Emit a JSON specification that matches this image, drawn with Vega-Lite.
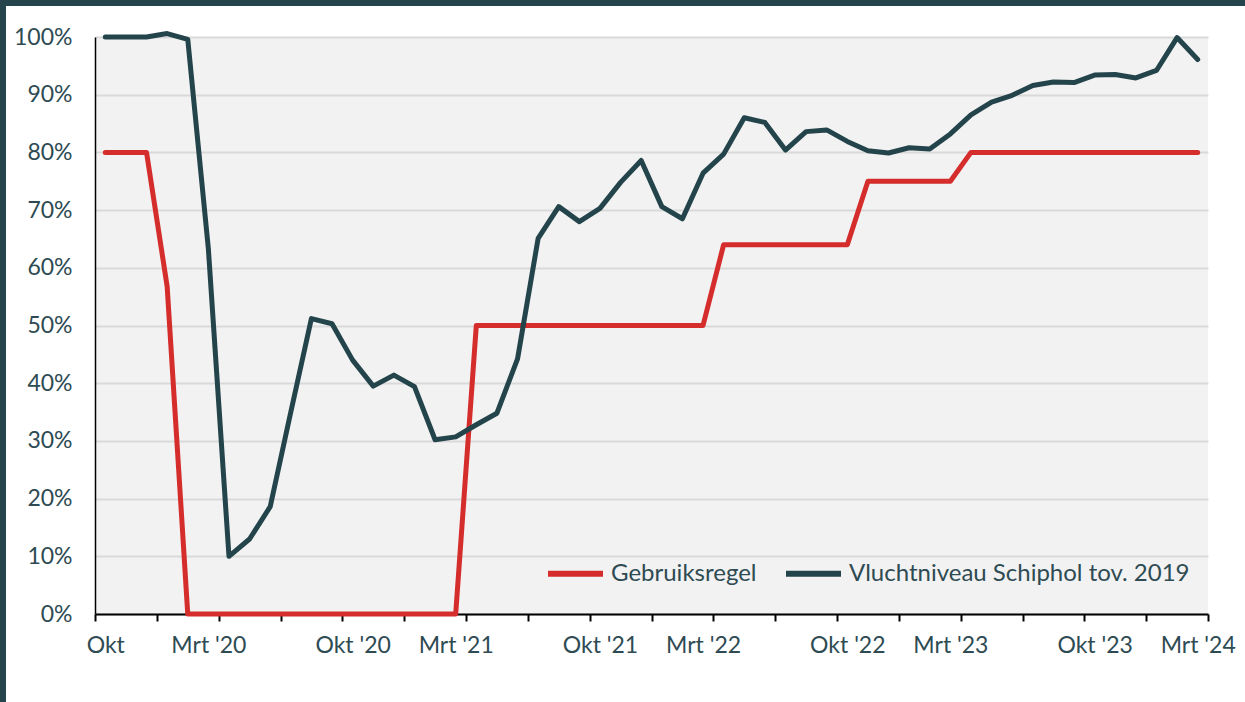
{
  "$schema": "https://vega.github.io/schema/vega-lite/v6.json",
  "padding": 0,
  "background": "white",
  "config": {
    "font": "Lato",
    "axis": {"labelFont": "Lato", "labelFontSize": 23, "labelColor": "#2e4b53", "titleFont": "Lato"},
    "legend": {"labelFont": "Lato"},
    "concat": {"spacing": 0}
  },
  "datasets": {
    "leeg": [],
    "reeksen": [
      {"i": 0, "maand": "2019-10", "reeks": "Gebruiksregel", "waarde": 80},
      {"i": 1, "maand": "2019-11", "reeks": "Gebruiksregel", "waarde": 80},
      {"i": 2, "maand": "2019-12", "reeks": "Gebruiksregel", "waarde": 80},
      {"i": 3, "maand": "2020-01", "reeks": "Gebruiksregel", "waarde": 56.8},
      {"i": 4, "maand": "2020-02", "reeks": "Gebruiksregel", "waarde": 0},
      {"i": 5, "maand": "2020-03", "reeks": "Gebruiksregel", "waarde": 0},
      {"i": 6, "maand": "2020-04", "reeks": "Gebruiksregel", "waarde": 0},
      {"i": 7, "maand": "2020-05", "reeks": "Gebruiksregel", "waarde": 0},
      {"i": 8, "maand": "2020-06", "reeks": "Gebruiksregel", "waarde": 0},
      {"i": 9, "maand": "2020-07", "reeks": "Gebruiksregel", "waarde": 0},
      {"i": 10, "maand": "2020-08", "reeks": "Gebruiksregel", "waarde": 0},
      {"i": 11, "maand": "2020-09", "reeks": "Gebruiksregel", "waarde": 0},
      {"i": 12, "maand": "2020-10", "reeks": "Gebruiksregel", "waarde": 0},
      {"i": 13, "maand": "2020-11", "reeks": "Gebruiksregel", "waarde": 0},
      {"i": 14, "maand": "2020-12", "reeks": "Gebruiksregel", "waarde": 0},
      {"i": 15, "maand": "2021-01", "reeks": "Gebruiksregel", "waarde": 0},
      {"i": 16, "maand": "2021-02", "reeks": "Gebruiksregel", "waarde": 0},
      {"i": 17, "maand": "2021-03", "reeks": "Gebruiksregel", "waarde": 0},
      {"i": 18, "maand": "2021-04", "reeks": "Gebruiksregel", "waarde": 50},
      {"i": 19, "maand": "2021-05", "reeks": "Gebruiksregel", "waarde": 50},
      {"i": 20, "maand": "2021-06", "reeks": "Gebruiksregel", "waarde": 50},
      {"i": 21, "maand": "2021-07", "reeks": "Gebruiksregel", "waarde": 50},
      {"i": 22, "maand": "2021-08", "reeks": "Gebruiksregel", "waarde": 50},
      {"i": 23, "maand": "2021-09", "reeks": "Gebruiksregel", "waarde": 50},
      {"i": 24, "maand": "2021-10", "reeks": "Gebruiksregel", "waarde": 50},
      {"i": 25, "maand": "2021-11", "reeks": "Gebruiksregel", "waarde": 50},
      {"i": 26, "maand": "2021-12", "reeks": "Gebruiksregel", "waarde": 50},
      {"i": 27, "maand": "2022-01", "reeks": "Gebruiksregel", "waarde": 50},
      {"i": 28, "maand": "2022-02", "reeks": "Gebruiksregel", "waarde": 50},
      {"i": 29, "maand": "2022-03", "reeks": "Gebruiksregel", "waarde": 50},
      {"i": 30, "maand": "2022-04", "reeks": "Gebruiksregel", "waarde": 64},
      {"i": 31, "maand": "2022-05", "reeks": "Gebruiksregel", "waarde": 64},
      {"i": 32, "maand": "2022-06", "reeks": "Gebruiksregel", "waarde": 64},
      {"i": 33, "maand": "2022-07", "reeks": "Gebruiksregel", "waarde": 64},
      {"i": 34, "maand": "2022-08", "reeks": "Gebruiksregel", "waarde": 64},
      {"i": 35, "maand": "2022-09", "reeks": "Gebruiksregel", "waarde": 64},
      {"i": 36, "maand": "2022-10", "reeks": "Gebruiksregel", "waarde": 64},
      {"i": 37, "maand": "2022-11", "reeks": "Gebruiksregel", "waarde": 75},
      {"i": 38, "maand": "2022-12", "reeks": "Gebruiksregel", "waarde": 75},
      {"i": 39, "maand": "2023-01", "reeks": "Gebruiksregel", "waarde": 75},
      {"i": 40, "maand": "2023-02", "reeks": "Gebruiksregel", "waarde": 75},
      {"i": 41, "maand": "2023-03", "reeks": "Gebruiksregel", "waarde": 75},
      {"i": 42, "maand": "2023-04", "reeks": "Gebruiksregel", "waarde": 80},
      {"i": 43, "maand": "2023-05", "reeks": "Gebruiksregel", "waarde": 80},
      {"i": 44, "maand": "2023-06", "reeks": "Gebruiksregel", "waarde": 80},
      {"i": 45, "maand": "2023-07", "reeks": "Gebruiksregel", "waarde": 80},
      {"i": 46, "maand": "2023-08", "reeks": "Gebruiksregel", "waarde": 80},
      {"i": 47, "maand": "2023-09", "reeks": "Gebruiksregel", "waarde": 80},
      {"i": 48, "maand": "2023-10", "reeks": "Gebruiksregel", "waarde": 80},
      {"i": 49, "maand": "2023-11", "reeks": "Gebruiksregel", "waarde": 80},
      {"i": 50, "maand": "2023-12", "reeks": "Gebruiksregel", "waarde": 80},
      {"i": 51, "maand": "2024-01", "reeks": "Gebruiksregel", "waarde": 80},
      {"i": 52, "maand": "2024-02", "reeks": "Gebruiksregel", "waarde": 80},
      {"i": 53, "maand": "2024-03", "reeks": "Gebruiksregel", "waarde": 80},
      {"i": 0, "maand": "2019-10", "reeks": "Vluchtniveau Schiphol tov. 2019", "waarde": 100},
      {"i": 1, "maand": "2019-11", "reeks": "Vluchtniveau Schiphol tov. 2019", "waarde": 100},
      {"i": 2, "maand": "2019-12", "reeks": "Vluchtniveau Schiphol tov. 2019", "waarde": 100},
      {"i": 3, "maand": "2020-01", "reeks": "Vluchtniveau Schiphol tov. 2019", "waarde": 100.6},
      {"i": 4, "maand": "2020-02", "reeks": "Vluchtniveau Schiphol tov. 2019", "waarde": 99.6},
      {"i": 5, "maand": "2020-03", "reeks": "Vluchtniveau Schiphol tov. 2019", "waarde": 63.3},
      {"i": 6, "maand": "2020-04", "reeks": "Vluchtniveau Schiphol tov. 2019", "waarde": 10},
      {"i": 7, "maand": "2020-05", "reeks": "Vluchtniveau Schiphol tov. 2019", "waarde": 13},
      {"i": 8, "maand": "2020-06", "reeks": "Vluchtniveau Schiphol tov. 2019", "waarde": 18.6},
      {"i": 9, "maand": "2020-07", "reeks": "Vluchtniveau Schiphol tov. 2019", "waarde": 35},
      {"i": 10, "maand": "2020-08", "reeks": "Vluchtniveau Schiphol tov. 2019", "waarde": 51.2},
      {"i": 11, "maand": "2020-09", "reeks": "Vluchtniveau Schiphol tov. 2019", "waarde": 50.3},
      {"i": 12, "maand": "2020-10", "reeks": "Vluchtniveau Schiphol tov. 2019", "waarde": 44},
      {"i": 13, "maand": "2020-11", "reeks": "Vluchtniveau Schiphol tov. 2019", "waarde": 39.5},
      {"i": 14, "maand": "2020-12", "reeks": "Vluchtniveau Schiphol tov. 2019", "waarde": 41.4},
      {"i": 15, "maand": "2021-01", "reeks": "Vluchtniveau Schiphol tov. 2019", "waarde": 39.4},
      {"i": 16, "maand": "2021-02", "reeks": "Vluchtniveau Schiphol tov. 2019", "waarde": 30.2},
      {"i": 17, "maand": "2021-03", "reeks": "Vluchtniveau Schiphol tov. 2019", "waarde": 30.7},
      {"i": 18, "maand": "2021-04", "reeks": "Vluchtniveau Schiphol tov. 2019", "waarde": 32.8},
      {"i": 19, "maand": "2021-05", "reeks": "Vluchtniveau Schiphol tov. 2019", "waarde": 34.8},
      {"i": 20, "maand": "2021-06", "reeks": "Vluchtniveau Schiphol tov. 2019", "waarde": 44.2},
      {"i": 21, "maand": "2021-07", "reeks": "Vluchtniveau Schiphol tov. 2019", "waarde": 65.1},
      {"i": 22, "maand": "2021-08", "reeks": "Vluchtniveau Schiphol tov. 2019", "waarde": 70.6},
      {"i": 23, "maand": "2021-09", "reeks": "Vluchtniveau Schiphol tov. 2019", "waarde": 68},
      {"i": 24, "maand": "2021-10", "reeks": "Vluchtniveau Schiphol tov. 2019", "waarde": 70.3},
      {"i": 25, "maand": "2021-11", "reeks": "Vluchtniveau Schiphol tov. 2019", "waarde": 74.8},
      {"i": 26, "maand": "2021-12", "reeks": "Vluchtniveau Schiphol tov. 2019", "waarde": 78.6},
      {"i": 27, "maand": "2022-01", "reeks": "Vluchtniveau Schiphol tov. 2019", "waarde": 70.6},
      {"i": 28, "maand": "2022-02", "reeks": "Vluchtniveau Schiphol tov. 2019", "waarde": 68.5},
      {"i": 29, "maand": "2022-03", "reeks": "Vluchtniveau Schiphol tov. 2019", "waarde": 76.4},
      {"i": 30, "maand": "2022-04", "reeks": "Vluchtniveau Schiphol tov. 2019", "waarde": 79.7},
      {"i": 31, "maand": "2022-05", "reeks": "Vluchtniveau Schiphol tov. 2019", "waarde": 86},
      {"i": 32, "maand": "2022-06", "reeks": "Vluchtniveau Schiphol tov. 2019", "waarde": 85.2},
      {"i": 33, "maand": "2022-07", "reeks": "Vluchtniveau Schiphol tov. 2019", "waarde": 80.4},
      {"i": 34, "maand": "2022-08", "reeks": "Vluchtniveau Schiphol tov. 2019", "waarde": 83.6},
      {"i": 35, "maand": "2022-09", "reeks": "Vluchtniveau Schiphol tov. 2019", "waarde": 83.9},
      {"i": 36, "maand": "2022-10", "reeks": "Vluchtniveau Schiphol tov. 2019", "waarde": 81.9},
      {"i": 37, "maand": "2022-11", "reeks": "Vluchtniveau Schiphol tov. 2019", "waarde": 80.3},
      {"i": 38, "maand": "2022-12", "reeks": "Vluchtniveau Schiphol tov. 2019", "waarde": 79.9},
      {"i": 39, "maand": "2023-01", "reeks": "Vluchtniveau Schiphol tov. 2019", "waarde": 80.8},
      {"i": 40, "maand": "2023-02", "reeks": "Vluchtniveau Schiphol tov. 2019", "waarde": 80.6},
      {"i": 41, "maand": "2023-03", "reeks": "Vluchtniveau Schiphol tov. 2019", "waarde": 83.2},
      {"i": 42, "maand": "2023-04", "reeks": "Vluchtniveau Schiphol tov. 2019", "waarde": 86.5},
      {"i": 43, "maand": "2023-05", "reeks": "Vluchtniveau Schiphol tov. 2019", "waarde": 88.7},
      {"i": 44, "maand": "2023-06", "reeks": "Vluchtniveau Schiphol tov. 2019", "waarde": 89.9},
      {"i": 45, "maand": "2023-07", "reeks": "Vluchtniveau Schiphol tov. 2019", "waarde": 91.6},
      {"i": 46, "maand": "2023-08", "reeks": "Vluchtniveau Schiphol tov. 2019", "waarde": 92.2},
      {"i": 47, "maand": "2023-09", "reeks": "Vluchtniveau Schiphol tov. 2019", "waarde": 92.1},
      {"i": 48, "maand": "2023-10", "reeks": "Vluchtniveau Schiphol tov. 2019", "waarde": 93.4},
      {"i": 49, "maand": "2023-11", "reeks": "Vluchtniveau Schiphol tov. 2019", "waarde": 93.5},
      {"i": 50, "maand": "2023-12", "reeks": "Vluchtniveau Schiphol tov. 2019", "waarde": 92.9},
      {"i": 51, "maand": "2024-01", "reeks": "Vluchtniveau Schiphol tov. 2019", "waarde": 94.2},
      {"i": 52, "maand": "2024-02", "reeks": "Vluchtniveau Schiphol tov. 2019", "waarde": 99.9},
      {"i": 53, "maand": "2024-03", "reeks": "Vluchtniveau Schiphol tov. 2019", "waarde": 96.1}
    ]
  },
  "hconcat": [
    {
      "width": 6,
      "height": 702,
      "data": {"name": "leeg"},
      "mark": "rect",
      "encoding": {},
      "view": {"fill": "#25444c", "stroke": null}
    },
    {
      "bounds": "flush",
      "spacing": 31,
      "vconcat": [
        {
          "width": 1239,
          "height": 6,
          "data": {"name": "leeg"},
          "mark": "rect",
          "encoding": {},
          "view": {"fill": "#25444c", "stroke": null}
        },
        {
          "bounds": "flush",
          "spacing": 88,
          "hconcat": [
            {
              "width": 1,
              "height": 1,
              "data": {"name": "leeg"},
              "mark": "rect",
              "encoding": {},
              "view": {"stroke": null}
            },
            {
              "width": 1113,
              "height": 577,
              "data": {"name": "reeksen"},
              "view": {"fill": "#f2f2f2", "stroke": null},
              "layer": [
                {
                  "transform": [{"filter": "datum.reeks === 'Gebruiksregel'"}],
                  "mark": {"type": "line", "strokeWidth": 5, "strokeCap": "round", "strokeJoin": "round", "clip": false},
                  "encoding": {
                    "x": {
                      "field": "i",
                      "type": "quantitative",
                      "scale": {"domain": [-0.5, 53.5], "nice": false, "zero": false},
                      "axis": {
                        "orient": "bottom",
                        "title": null,
                        "values": [-0.5, 2.5, 5.5, 8.5, 11.5, 14.5, 17.5, 20.5, 23.5, 26.5, 29.5, 32.5, 35.5, 38.5, 41.5, 44.5, 47.5, 50.5, 53.5],
                        "labels": false,
                        "ticks": true,
                        "tickColor": "#000000",
                        "tickSize": 7,
                        "tickWidth": 2,
                        "domain": true,
                        "domainColor": "#000000",
                        "domainWidth": 2,
                        "grid": false
                      }
                    },
                    "y": {
                      "field": "waarde",
                      "type": "quantitative",
                      "scale": {"domain": [0, 100], "nice": false},
                      "axis": {
                        "orient": "left",
                        "title": null,
                        "values": [0, 10, 20, 30, 40, 50, 60, 70, 80, 90, 100],
                        "labelExpr": "datum.value + '%'",
                        "grid": true,
                        "gridColor": "#d9d9d9",
                        "gridWidth": 2,
                        "ticks": false,
                        "tickSize": 0,
                        "labelPadding": 23,
                        "domain": true,
                        "domainColor": "#000000",
                        "domainWidth": 1.5
                      }
                    },
                    "color": {
                      "field": "reeks",
                      "type": "nominal",
                      "scale": {"domain": ["Gebruiksregel", "Vluchtniveau Schiphol tov. 2019"], "range": ["#d52c2c", "#24444b"]},
                      "legend": {
                        "title": null,
                        "orient": "none",
                        "legendX": 545,
                        "legendY": 543,
                        "direction": "horizontal",
                        "symbolType": "stroke",
                        "symbolSize": 3025,
                        "symbolStrokeWidth": 6,
                        "labelFontSize": 24,
                        "labelColor": "#2e4b53",
                        "labelOffset": 5,
                        "columnPadding": 17,
                        "padding": 0,
                        "labelLimit": 600
                      }
                    }
                  }
                },
                {
                  "transform": [{"filter": "datum.reeks !== 'Gebruiksregel'"}],
                  "mark": {"type": "line", "strokeWidth": 5, "strokeCap": "round", "strokeJoin": "round", "clip": false},
                  "encoding": {
                    "x": {
                      "field": "i",
                      "type": "quantitative",
                      "axis": {
                        "orient": "bottom",
                        "title": null,
                        "values": [0, 5, 12, 17, 24, 29, 36, 41, 48, 53],
                        "labelExpr": "['Okt', \"Mrt '20\", \"Okt '20\", \"Mrt '21\", \"Okt '21\", \"Mrt '22\", \"Okt '22\", \"Mrt '23\", \"Okt '23\", \"Mrt '24\"][indexof([0, 5, 12, 17, 24, 29, 36, 41, 48, 53], datum.value)]",
                        "labelFlush": false,
                        "labelOverlap": false,
                        "ticks": false,
                        "tickSize": 0,
                        "domain": false,
                        "grid": false,
                        "labelPadding": 20
                      }
                    },
                    "y": {"field": "waarde", "type": "quantitative", "axis": null},
                    "color": {"field": "reeks", "type": "nominal"}
                  }
                }
              ],
              "resolve": {"axis": {"x": "independent", "y": "independent"}}
            }
          ]
        }
      ]
    }
  ]
}
